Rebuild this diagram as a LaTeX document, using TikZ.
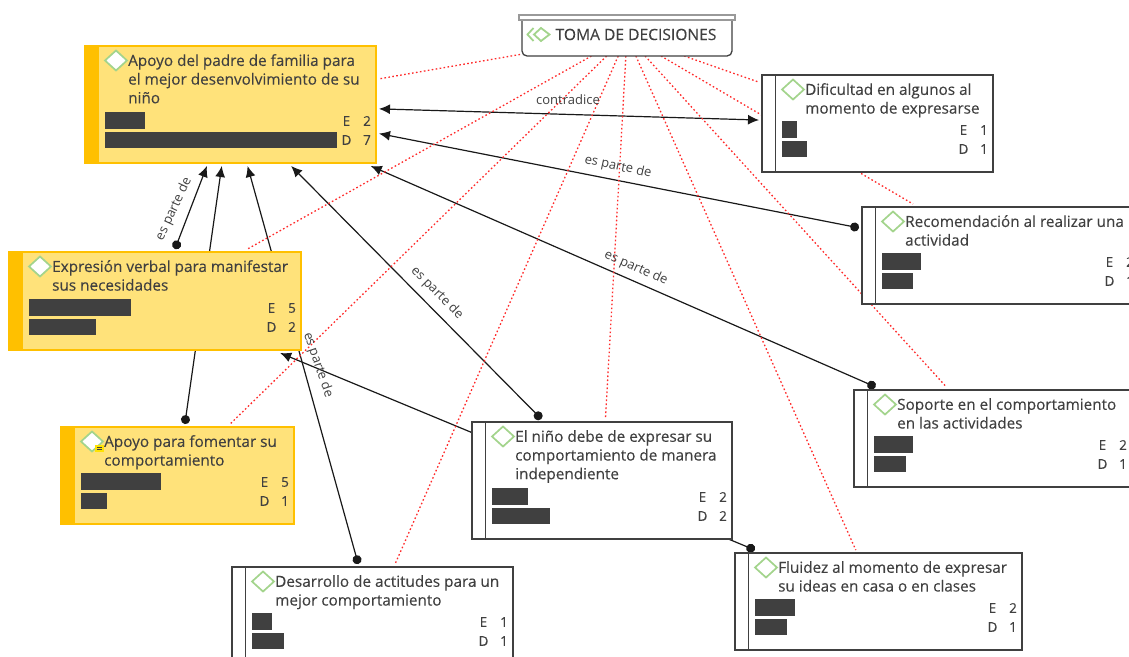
\documentclass[tikz,border=0pt]{standalone}
\usepackage{fontspec}
\setmainfont{Open Sans}
\newfontfamily\cardfont[FakeBold=0.2]{Open Sans}
\usetikzlibrary{arrows.meta,backgrounds}
\definecolor{ink}{HTML}{404040}
\definecolor{stripeY}{HTML}{FFC000}
\definecolor{fillY}{HTML}{FFE27A}
\definecolor{leaf}{HTML}{A3D48C}
\definecolor{tiered}{HTML}{FF2A2A}
\tikzset{
  cardbase/.style={rectangle,inner sep=0pt,outer sep=3pt,anchor=center},
  cardyellow/.style={cardbase,draw=stripeY,fill=fillY,line width=1.1pt},
  cardwhite/.style={cardbase,draw=ink,fill=white,line width=1.3pt},
  stripeyellow/.style={fill=stripeY},
  stripewhite/.style={draw=ink,line width=1.3pt},
  cardtext/.style={anchor=north west,align=left,inner sep=0pt,text=ink,font=\cardfont\fontsize{15.3}{18.7}\selectfont},
  num/.style={inner sep=0pt,text=ink,font=\cardfont\fontsize{13.5}{15}\selectfont},
  bar/.style={fill=ink},
  leafd/.style={draw=leaf,fill=white,line width=1.7pt},
  link/.style={draw=black!90,line width=1.2pt},
  partof/.style={link,{Circle[length=9pt,width=9pt]}-{Latex[length=11pt,width=10pt]}},
  tie/.style={draw=tiered,line width=1.3pt,dash pattern=on 1.6pt off 2.4pt},
  lbl/.style={inner sep=0pt,text=ink,font=\fontsize{13}{15}\selectfont},
}
\newcommand{\cardkind}{yellow}
\newcommand{\cardnums}[2]{\def\numE{#1}\def\numD{#2}}
% name, left, top, right, height, text, bar E, bar D, {{E}{D}}
\newcommand{\card}[9]{%
  \cardnums#9%
  \pgfmathsetmacro{\cardoff}{#5-51}%
  \node[card\cardkind,minimum width={(#4-#2)*1pt},minimum height={#5*1pt}] (#1) at ({(#2+#4)/2},{#3+#5/2}) {};
  \path[stripe\cardkind] (#2,#3) rectangle (#2+13.5,#3+#5);
  \ifx\cardkind\cardwhitekind \draw[stripewhite] (#2+13.5,#3) -- (#2+13.5,#3+#5);\fi
  \draw[leafd] (#2+20,#3+14.5) -- (#2+31,#3+4.5) -- (#2+42,#3+14.5) -- (#2+31,#3+24.5) -- cycle;
  \node[cardtext] (#1-t) at (#2+43,#3+8) {#6};
  \fill[bar] (#2+20,#3+\cardoff) rectangle (#2+20+#7,#3+\cardoff+16.5);
  \fill[bar] (#2+20,#3+\cardoff+19.5) rectangle (#2+20+#8,#3+\cardoff+36);
  \node[num] (#1-el) at (#4-29.5,#3+\cardoff+9) {E};
  \node[num] (#1-dl) at (#4-29.5,#3+\cardoff+28) {D};
  \node[num] (#1-en) at (#4-9,#3+\cardoff+9) {\numE};
  \node[num] (#1-dn) at (#4-9,#3+\cardoff+28) {\numD};
}
\def\cardwhitekind{white}
\begin{document}
\begin{tikzpicture}[x=1pt,y=-1pt]
\useasboundingbox (0,0) rectangle (1129,656);
% central
\draw[draw=ink,fill=white,line width=1.3pt] (522,20) -- (522,50) [rounded corners=5pt] -- (522,56) -- (732,56) [sharp corners] -- (732,20);
\draw[draw=black!40,fill=white,line width=1.3pt] (519,15) rectangle (735,20);
\node[rectangle,inner sep=0pt,outer sep=2pt,minimum width=210pt,minimum height=36pt] (central) at (627,36) {};
\node[inner sep=0pt,text=ink,font=\cardfont\fontsize{15.6}{18}\selectfont] (central-t) at (636,34.5) {TOMA DE DECISIONES};
\draw[leaf,line width=1.8pt] (533.5,28) -- (527.5,34.5) -- (533.5,41);
\draw[leaf,line width=1.8pt] (541,28) -- (549.5,34.5) -- (541,41) -- (534,34.5) -- cycle;
% cards
\renewcommand{\cardkind}{yellow}
\card{A}{85}{46}{376}{117}{Apoyo del padre de familia para\\el mejor desenvolvimiento de su\\niño}{40}{232}{{2}{7}}
\card{B}{9}{252}{301}{98}{Expresión verbal para manifestar\\sus necesidades}{102}{67}{{5}{2}}
\card{C}{61}{427}{294}{97}{Apoyo para fomentar su\\comportamiento}{80}{26}{{5}{1}}
\fill[yellow!85!orange] (95,445) rectangle (104,452);
\draw[ink,line width=.7pt] (97,447.5) -- (102,447.5) (97,449.8) -- (102,449.8);
\renewcommand{\cardkind}{white}
\card{D}{232}{567}{513}{97}{Desarrollo de actitudes para un\\mejor comportamiento}{20}{32}{{1}{1}}
\card{E}{472}{422}{732}{117}{El niño debe de expresar su\\comportamiento de manera\\independiente}{36}{58}{{2}{2}}
\card{F}{762}{75}{993}{97}{Dificultad en algunos al\\momento de expresarse}{15}{25}{{1}{1}}
\card{G}{862}{207}{1139}{97}{Recomendación al realizar una\\actividad}{39}{31}{{2}{1}}
\card{H}{854}{390}{1132}{97}{Soporte en el comportamiento\\en las actividades}{39}{32}{{2}{1}}
\card{I}{735}{553}{1022}{97}{Fluidez al momento de expresar\\su ideas en casa o en clases}{40}{32}{{2}{1}}
% connectors
\begin{pgfonlayer}{background}
\draw[link,{Latex[length=11pt,width=10pt]}-{Latex[length=11pt,width=10pt]}] (A) -- (F);
\draw[partof] (G) -- (A);
\draw[partof] (H) -- (A);
\draw[partof] (E) -- (A);
\draw[partof] (B) -- (A);
\draw[partof] (C) -- (A);
\draw[partof] (D) -- (A);
\draw[partof] (I) -- (B);
\foreach \t in {A,B,C,D,E,F,G,H,I} \draw[tie] (central) -- (\t);
\end{pgfonlayer}
% labels
\node[lbl] (l1) at (568,100) {contradice};
\node[lbl,rotate=-12] (l2) at (618,167) {es parte de};
\node[lbl,rotate=-24] (l3) at (636,268) {es parte de};
\node[lbl,rotate=-45] (l4) at (437,293) {es parte de};
\node[lbl,rotate=65] (l5) at (174,209) {es parte de};
\node[lbl,rotate=-71] (l6) at (318,365) {es parte de};
\end{tikzpicture}
\end{document}
